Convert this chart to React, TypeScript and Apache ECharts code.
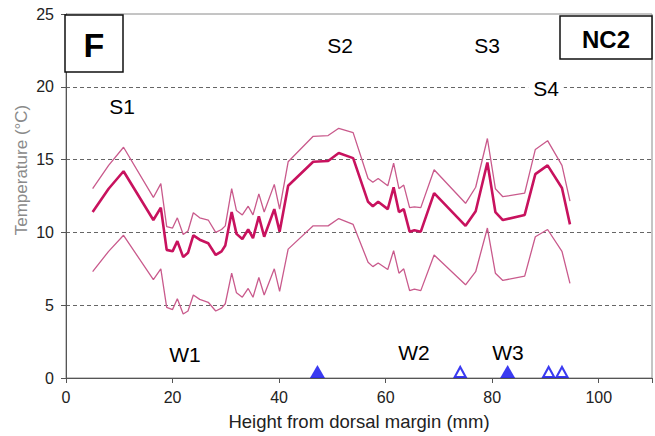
import React, { useEffect, useRef } from "react";
import * as echarts from "echarts";

const heights = [5, 8, 10.8, 16.4, 17.8, 18.9, 20, 20.9, 22, 22.9, 23.9, 25.1, 26.7, 28.1, 29.2, 29.9, 31.1, 32, 33.1, 34.2, 35.1, 36.2, 37.2, 39.1, 40.1, 41.7, 46.4, 49.2, 51.2, 53.9, 56.7, 57.6, 58.6, 60.4, 61.5, 62.5, 63.4, 64.5, 65.4, 66.6, 69.1, 75, 76.9, 79.1, 80.6, 82, 86.1, 88.1, 90.4, 93.1, 94.6];
const meanTemp = [11.4, 13.0, 14.2, 10.85, 11.7, 8.8, 8.7, 9.4, 8.3, 8.6, 9.8, 9.5, 9.25, 8.45, 8.7, 9.1, 11.4, 9.9, 9.55, 10.2, 9.6, 11.1, 9.7, 11.6, 10.05, 13.2, 14.85, 14.9, 15.45, 15.1, 12.1, 11.8, 12.1, 11.6, 13.1, 11.4, 11.6, 10.05, 10.15, 10.05, 12.7, 10.45, 11.45, 14.8, 11.4, 10.85, 11.2, 14.0, 14.6, 13.05, 10.55];
const upperTemp = [13.0, 14.6, 15.85, 12.4, 13.35, 10.4, 10.3, 11.0, 9.85, 10.1, 11.35, 11.0, 10.85, 10.0, 10.2, 10.45, 13.0, 11.5, 11.2, 11.8, 11.2, 12.65, 11.4, 13.3, 11.6, 14.85, 16.6, 16.65, 17.15, 16.85, 13.7, 13.45, 13.7, 13.2, 14.75, 13.0, 13.25, 11.7, 11.75, 11.7, 14.3, 12.0, 13.1, 16.45, 13.0, 12.45, 12.7, 15.7, 16.3, 14.6, 12.15];
const lowerTemp = [7.3, 8.7, 9.8, 6.75, 7.5, 4.85, 4.7, 5.45, 4.4, 4.6, 5.7, 5.4, 5.2, 4.6, 4.8, 5.1, 7.2, 5.85, 5.55, 6.15, 5.55, 6.9, 5.7, 7.5, 5.95, 8.85, 10.45, 10.45, 10.95, 10.55, 7.95, 7.65, 7.9, 7.45, 8.75, 7.2, 7.5, 6.0, 6.1, 6.0, 8.45, 6.4, 7.3, 10.3, 7.2, 6.7, 7.0, 9.7, 10.2, 8.7, 6.5];
const filledMarks = [47.2, 82.9];
const openMarks = [74.0, 90.6, 93.1];

const FONT = "Liberation Sans, Arial, sans-serif";

export default function App() {
  const ref = useRef<HTMLDivElement>(null);
  useEffect(() => {
    if (!ref.current) return;
    const chart = echarts.init(ref.current, null, { renderer: "svg" });
    const pairs = (ys: number[]) => heights.map((h, i) => [h, ys[i]]);
    const label = (text: string, x: number, y: number, extra: any = {}) => ({
      type: "text",
      x,
      y,
      z: 100,
      style: {
        text,
        font: `21px ${FONT}`,
        fill: "#000",
        align: "center",
        verticalAlign: "middle",
        ...extra,
      },
    });
    chart.setOption({
      animation: false,
      backgroundColor: "#fff",
      textStyle: { fontFamily: FONT },
      grid: {
        left: 66,
        right: 2,
        top: 14,
        bottom: 55,
        show: true,
        borderColor: "#8a8a8a",
        borderWidth: 1,
      },
      xAxis: {
        type: "value",
        min: 0,
        max: 110,
        interval: 20,
        name: "Height from dorsal margin (mm)",
        nameLocation: "middle",
        nameGap: 34,
        nameTextStyle: { fontSize: 18.5, color: "#222", fontFamily: FONT },
        axisLine: { show: true, onZero: false, lineStyle: { color: "#555", width: 1 } },
        axisTick: { show: true, length: 5, lineStyle: { color: "#555" } },
        axisLabel: {
          fontSize: 16,
          color: "#222",
          margin: 11,
          formatter: (v: number) => (v > 100 ? "" : String(v)),
        },
        splitLine: { show: false },
      },
      yAxis: {
        type: "value",
        min: 0,
        max: 25,
        interval: 5,
        axisLine: { show: true, lineStyle: { color: "#555", width: 1 } },
        axisTick: { show: true, length: 5, lineStyle: { color: "#555" } },
        axisLabel: { fontSize: 16, color: "#222", margin: 12 },
        splitLine: {
          show: true,
          showMinLine: false,
          showMaxLine: false,
          lineStyle: { color: "#666", type: [4, 3], width: 1 },
        },
      },
      series: [
        {
          type: "line",
          data: pairs(upperTemp),
          symbol: "none",
          lineStyle: { color: "#c95a8c", width: 1.3 },
        },
        {
          type: "line",
          data: pairs(lowerTemp),
          symbol: "none",
          lineStyle: { color: "#c95a8c", width: 1.3 },
        },
        {
          type: "line",
          data: pairs(meanTemp),
          symbol: "none",
          lineStyle: { color: "#c8125e", width: 2.6 },
        },
        {
          type: "scatter",
          data: filledMarks.map((h) => [h, 0]),
          symbol: "triangle",
          symbolSize: [15, 13],
          symbolOffset: [0, -6.5],
          clip: false,
          z: 5,
          itemStyle: { color: "#0a0aee" },
        },
        {
          type: "scatter",
          data: openMarks.map((h) => [h, 0]),
          symbol: "triangle",
          symbolSize: [11, 10],
          symbolOffset: [0, -6],
          clip: false,
          z: 5,
          itemStyle: { color: "#fff", borderColor: "#0a0aee", borderWidth: 2 },
        },
      ],
      graphic: [
        {
          type: "text",
          x: 21,
          y: 170,
          rotation: Math.PI / 2,
          z: 100,
          style: {
            text: "Temperature (°C)",
            font: `17px ${FONT}`,
            fill: "#8a8a8a",
            align: "center",
            verticalAlign: "middle",
          },
        },
        {
          type: "rect",
          z: 90,
          shape: { x: 65, y: 15, width: 58, height: 57 },
          style: { fill: "#fff", stroke: "#111", lineWidth: 1.5 },
        },
        label("F", 94, 45, { font: `bold 34px ${FONT}` }),
        {
          type: "rect",
          z: 90,
          shape: { x: 560, y: 16, width: 92, height: 43 },
          style: { fill: "#fff", stroke: "#111", lineWidth: 1.5 },
        },
        label("NC2", 606, 39, { font: `bold 24px ${FONT}` }),
        label("S1", 122, 106),
        label("S2", 340, 45),
        label("S3", 487, 45),
        label("S4", 546, 88, { backgroundColor: "#fff", padding: [0, 5] }),
        label("W1", 185, 354),
        label("W2", 414, 352),
        label("W3", 508, 352),
      ],
    });
    return () => chart.dispose();
  }, []);
  return <div ref={ref} style={{ width: 655, height: 436, position: "absolute", left: 0, top: 0 }} />;
}
